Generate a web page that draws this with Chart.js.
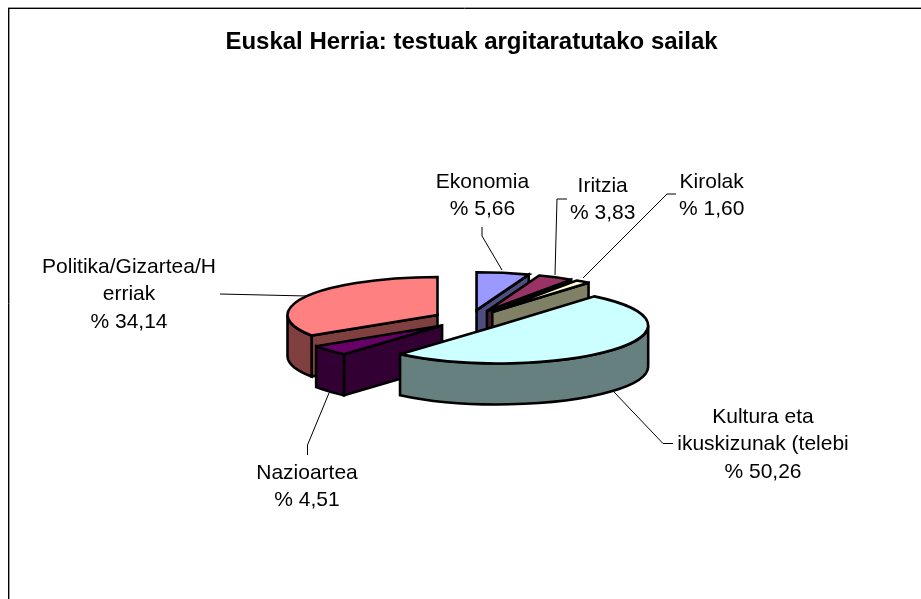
<!DOCTYPE html>
<html><head><meta charset="utf-8">
<style>html,body{margin:0;padding:0;background:#fff}canvas{display:block}</style>
<script src="https://cdn.jsdelivr.net/npm/chart.js@4"></script>
</head><body><canvas id="c" width="921" height="599"></canvas>
<script>
const categories = ["Ekonomia","Iritzia","Kirolak","Kultura eta ikuskizunak (telebi","Nazioartea","Politika/Gizartea/Herriak"];
const values = [5.66,3.83,1.60,50.26,4.51,34.14];
const topColors = ["#9999FF","#993366","#FFFFCC","#CCFFFF","#660066","#FF8080"];
const sideColors = ["#4D4D80","#4D1A33","#808066","#668080","#330033","#804040"];
const wrappedNames = [["Ekonomia"],["Iritzia"],["Kirolak"],["Kultura eta","ikuskizunak (telebi"],["Nazioartea"],["Politika/Gizartea/H","erriak"]];
const titleText = "Euskal Herria: testuak argitaratutako sailak";
const labelPlaces = [
  {x:482.5,y:188},{x:602.7,y:192},{x:711.7,y:188},{x:763,y:423},{x:307,y:479},{x:129,y:273}];
const leaders = [
  [[482,227],[482,236],[502,270]],
  [[567,199],[557,199],[555,275]],
  [[676,194],[667,194],[583,278]],
  [[673,443.5],[663,443.5],[614,392]],
  [[307.5,455],[307.5,445],[329,393]],
  [[220,294],[307,296]]];
const paintOrder = [0,1,2,5,4,3];
const squash = 0.253, depth = 41, lineSpacing = 27.3, pieShiftX = -1.5;

const pie3d = {
  id:'pie3d',
  beforeDraw(chart){
    const c = chart.ctx; c.save();
    c.fillStyle='#fff'; c.fillRect(0,0,921,599);
    c.lineWidth=1;
    c.strokeStyle='#999'; c.beginPath(); c.moveTo(9.5,9); c.lineTo(9.5,599); c.moveTo(8,7.5); c.lineTo(921,7.5); c.stroke();
    c.strokeStyle='#000'; c.beginPath(); c.moveTo(8.5,8); c.lineTo(8.5,599); c.moveTo(8,8.5); c.lineTo(921,8.5); c.stroke();
    c.restore();
  },
  beforeDatasetsDraw(chart){
    const c = chart.ctx, arcs = chart.getDatasetMeta(0).data;
    c.save(); c.lineWidth=2.6; c.strokeStyle='#000'; c.lineJoin='miter'; c.miterLimit=3;
    for(const i of paintOrder){
      const el = arcs[i], a0 = el.startAngle, a1 = el.endAngle, R = el.outerRadius;
      const mid=(a0+a1)/2, off=el.options.offset;
      const cx = el.x+pieShiftX+Math.cos(mid)*off, cy = el.y+Math.sin(mid)*off*squash, Ry=R*squash;
      const px=a=>cx+Math.cos(a)*R, py=a=>cy+Math.sin(a)*Ry;
      c.fillStyle=sideColors[i];
      const face=a=>{c.beginPath();c.moveTo(cx,cy);c.lineTo(px(a),py(a));c.lineTo(px(a),py(a)+depth);c.lineTo(cx,cy+depth);c.closePath();c.fill();c.stroke();};
      if(Math.cos(a0)<-1e-6) face(a0);
      if(Math.cos(a1)>1e-6) face(a1);
      const s=Math.max(a0,0), e=Math.min(a1,Math.PI);
      if(e>s){
        c.beginPath(); c.ellipse(cx,cy,R,Ry,0,s,e); c.lineTo(px(e),py(e)+depth);
        c.ellipse(cx,cy+depth,R,Ry,0,e,s,true); c.closePath(); c.fill(); c.stroke();
      }
      c.fillStyle=topColors[i];
      c.beginPath(); c.moveTo(cx,cy); c.ellipse(cx,cy,R,Ry,0,a0,a1); c.closePath(); c.fill(); c.stroke();
    }
    c.restore();
    return false;
  },
  afterDraw(chart){
    const c = chart.ctx; c.save();
    c.lineWidth=1; c.strokeStyle='#000';
    for(const l of leaders){ c.beginPath(); l.forEach((p,k)=>k?c.lineTo(p[0],p[1]):c.moveTo(p[0],p[1])); c.stroke(); }
    c.fillStyle='#000'; c.font='21px "Liberation Sans"'; c.textAlign='center'; c.textBaseline='alphabetic';
    values.forEach((v,i)=>{
      const lines=[...wrappedNames[i],'% '+v.toFixed(2).replace('.',',')];
      lines.forEach((t,k)=>c.fillText(t,labelPlaces[i].x,labelPlaces[i].y+k*lineSpacing));
    });
    c.restore();
  }
};

new Chart(document.getElementById('c'),{
  type:'pie',
  data:{labels:categories,datasets:[{data:values,backgroundColor:topColors,borderColor:'#000',borderWidth:2,offset:37}]},
  options:{
    responsive:false,animation:false,events:[],radius:150,
    layout:{padding:{left:22,right:0,top:0,bottom:22}},
    plugins:{
      legend:{display:false},tooltip:{enabled:false},
      title:{display:true,text:titleText,color:'#000',font:{family:'"Liberation Sans"',size:24,weight:'bold'},padding:{top:28,bottom:5}}
    }
  },
  plugins:[pie3d]
});
</script></body></html>
